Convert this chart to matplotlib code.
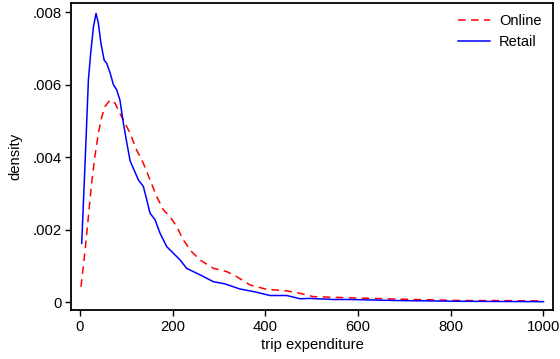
import matplotlib
matplotlib.use("Agg")
import matplotlib.pyplot as plt
from matplotlib.ticker import FixedLocator

plt.rcParams['font.family'] = ['Liberation Sans', 'DejaVu Sans']

# Kernel density of trip expenditure, online shoppers
online_x = [2, 11, 18, 25, 32, 39.5, 47, 54, 65, 75.5, 86, 97, 108, 122, 136.6, 151,
            165.5, 180, 194, 208.6, 223, 240, 259, 288, 316.5, 338, 367, 403, 446,
            475, 503, 547, 600, 690, 760, 827, 900, 1000]
online_y = [0.00042, 0.00144, 0.00236, 0.00328, 0.00401, 0.00466, 0.00512, 0.0054,
            0.00558, 0.00549, 0.00521, 0.00494, 0.00466, 0.0042, 0.00383, 0.00337,
            0.00291, 0.00254, 0.00236, 0.00208, 0.00171, 0.00140, 0.00116, 0.00093,
            0.00084, 0.0007, 0.00047, 0.00035, 0.00031, 0.00024, 0.00015, 0.00013,
            0.00011, 0.00008, 0.00006, 0.00004, 0.00004, 0.00003]

# Kernel density of trip expenditure, retail shoppers
retail_x = [3.6, 12, 18, 23, 29, 34.5, 39.5, 45, 52, 57.5, 65, 72, 79, 86, 93.5, 101,
            108, 115, 126, 136.6, 144, 151, 162, 172.6, 180, 187, 216, 230, 259, 288,
            313, 345, 374, 410, 446, 475, 496, 547, 582, 690, 827, 1000]
retail_y = [0.00162, 0.0042, 0.00613, 0.00688, 0.0076, 0.00797, 0.0077, 0.00715,
            0.00668, 0.00659, 0.00632, 0.0060, 0.00586, 0.00558, 0.00494, 0.00439,
            0.0039, 0.00369, 0.00337, 0.00319, 0.00282, 0.00245, 0.00227, 0.0019,
            0.00171, 0.00153, 0.00116, 0.00093, 0.00075, 0.00056, 0.0005, 0.00036,
            0.00029, 0.00018, 0.00018, 0.00009, 0.0001, 0.00007, 0.00007, 0.00004,
            0.00002, 0.00001]

x_ticks = [0, 200, 400, 600, 800, 1000]
y_ticks = [0, 0.002, 0.004, 0.006, 0.008]
y_tick_labels = ["0", ".002", ".004", ".006", ".008"]

fig = plt.figure(figsize=(5.6, 3.59), dpi=100)
ax = fig.add_axes([0.1268, 0.1365, 0.8607, 0.8565])

ax.plot(online_x, online_y, color="#ff0000", lw=1.1, dashes=(5, 3.5), label="Online")
ax.plot(retail_x, retail_y, color="#0000ff", lw=1.1, label="Retail")

ax.set_xlim(-19.5, 1020.5)
ax.set_ylim(-0.00022, 0.00827)
ax.xaxis.set_major_locator(FixedLocator(x_ticks))
ax.yaxis.set_major_locator(FixedLocator(y_ticks))
ax.set_yticklabels(y_tick_labels)

ax.tick_params(direction="out", length=4, width=1, labelsize=10.7, colors="black", pad=3)
for s in ax.spines.values():
    s.set_linewidth(1.3)
    s.set_color("black")

ax.set_xlabel("trip expenditure", fontsize=10.7, labelpad=3)
ax.set_ylabel("density", fontsize=10.7, labelpad=7)

leg = ax.legend(loc="upper right", frameon=False, fontsize=10.5, handlelength=2.2,
                handletextpad=0.6, labelspacing=0.5, borderaxespad=0.4)

fig.savefig("out.png", dpi=100)
